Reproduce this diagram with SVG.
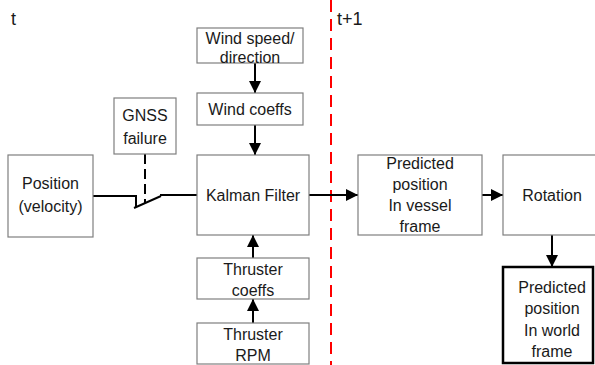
<svg xmlns="http://www.w3.org/2000/svg" width="595" height="365" viewBox="0 0 595 365">
<defs>
<style>
.box{fill:#fff;stroke:#7f7f7f;stroke-width:1.2}
.bold{fill:#fff;stroke:#000;stroke-width:2.5}
text{font-family:"Liberation Sans",Arial,sans-serif;font-size:16px;fill:#1a1a1a;text-anchor:middle}
.lbl{font-size:18px;text-anchor:start}
.ln{stroke:#000;stroke-width:2;fill:none}
</style>
<marker id="ah" viewBox="0 0 10 10" refX="10" refY="5" markerWidth="6" markerHeight="6" markerUnits="userSpaceOnUse" orient="auto">
<path d="M0,0 L10,5 L0,10 z" fill="#000"/>
</marker>
<marker id="a" viewBox="0 0 12 12" refX="12" refY="6" markerWidth="12" markerHeight="12" markerUnits="userSpaceOnUse" orient="auto">
<path d="M0,0 L12,6 L0,12 z" fill="#000"/>
</marker>
</defs>
<rect width="595" height="365" fill="#fff"/>
<text class="lbl" x="11" y="25">t</text>
<text class="lbl" x="337" y="25">t+1</text>
<line x1="331" y1="0" x2="331" y2="365" stroke="#ff0000" stroke-width="2" stroke-dasharray="12 7"/>
<g id="connectors">
<polyline class="ln" points="93,196 136,196 136,207"/>
<line class="ln" x1="134" y1="208" x2="161" y2="196"/>
<line class="ln" x1="160" y1="195" x2="197" y2="195"/>
<line class="ln" x1="145" y1="154" x2="145" y2="203" stroke-dasharray="10 5"/>
<line class="ln" x1="255" y1="63" x2="255" y2="93" marker-end="url(#a)"/>
<line class="ln" x1="255" y1="125" x2="255" y2="155" marker-end="url(#a)"/>
<line class="ln" x1="253" y1="258" x2="253" y2="235" marker-end="url(#a)"/>
<line class="ln" x1="253" y1="323" x2="253" y2="299" marker-end="url(#a)"/>
<line class="ln" x1="309" y1="195" x2="358" y2="195" marker-end="url(#a)"/>
<line class="ln" x1="482" y1="195" x2="503" y2="195" marker-end="url(#a)"/>
<line class="ln" x1="552" y1="235" x2="552" y2="267" marker-end="url(#a)"/>
</g>
<g id="position">
<rect class="box" x="8" y="155" width="85" height="82"/>
<text x="50.5" y="189">Position</text>
<text x="50.5" y="212">(velocity)</text>
</g>
<g id="gnss">
<rect class="box" x="114" y="98" width="62" height="56"/>
<text x="145" y="121">GNSS</text>
<text x="145" y="144">failure</text>
</g>
<g id="wind-speed">
<rect class="box" x="197" y="28" width="106" height="35"/>
<text x="250" y="44">Wind speed/</text>
<text x="250" y="63">direction</text>
</g>
<g id="wind-coeffs">
<rect class="box" x="197" y="93" width="106" height="32"/>
<text x="250" y="115">Wind coeffs</text>
</g>
<g id="kalman">
<rect class="box" x="197" y="155" width="112" height="80"/>
<text x="253" y="201">Kalman Filter</text>
</g>
<g id="thruster-coeffs">
<rect class="box" x="197" y="258" width="112" height="41"/>
<text x="253" y="275">Thruster</text>
<text x="253" y="296">coeffs</text>
</g>
<g id="thruster-rpm">
<rect class="box" x="197" y="323" width="112" height="41"/>
<text x="253" y="340">Thruster</text>
<text x="253" y="361">RPM</text>
</g>
<g id="pred-vessel">
<rect class="box" x="358" y="155" width="124" height="80"/>
<text x="420" y="169">Predicted</text>
<text x="420" y="190">position</text>
<text x="420" y="211">In vessel</text>
<text x="420" y="232">frame</text>
</g>
<g id="rotation">
<rect class="box" x="503" y="155" width="100" height="80"/>
<text x="552" y="201">Rotation</text>
</g>
<g id="pred-world">
<rect class="bold" x="503" y="267" width="90" height="96"/>
<text x="552" y="293">Predicted</text>
<text x="552" y="314">position</text>
<text x="552" y="336">In world</text>
<text x="552" y="357">frame</text>
</g>
</svg>
